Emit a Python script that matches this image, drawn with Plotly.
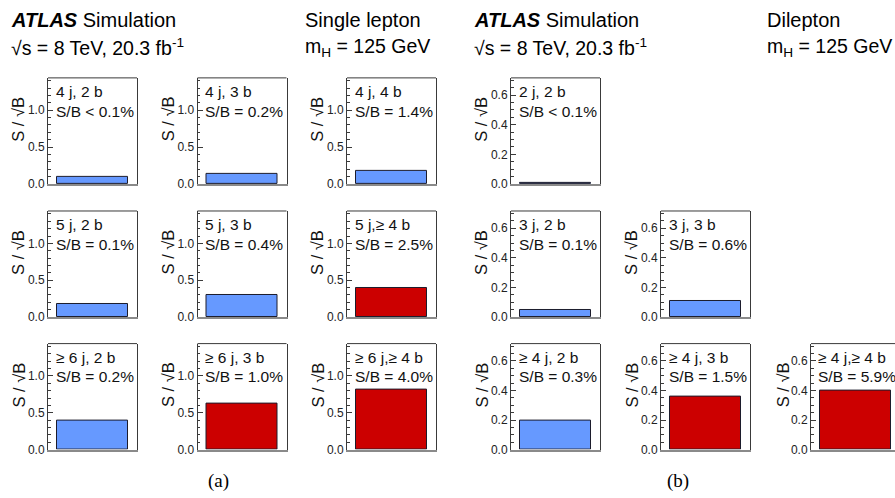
import plotly.graph_objects as go

# Single-lepton regions (3x3 grid, row-major)
sl_regions = ["4 j, 2 b", "4 j, 3 b", "4 j, 4 b",
              "5 j, 2 b", "5 j, 3 b", "5 j,\u2265 4 b",
              "\u2265 6 j, 2 b", "\u2265 6 j, 3 b", "\u2265 6 j,\u2265 4 b"]
sl_sb_labels = ["S/B < 0.1%", "S/B = 0.2%", "S/B = 1.4%",
                "S/B = 0.1%", "S/B = 0.4%", "S/B = 2.5%",
                "S/B = 0.2%", "S/B = 1.0%", "S/B = 4.0%"]
sl_s_over_sqrt_b = [0.10, 0.14, 0.17, 0.18, 0.30, 0.40, 0.39, 0.62, 0.81]
sl_signal_rich = [False, False, False, False, False, True, False, True, True]

# Dilepton regions
dl_regions = ["2 j, 2 b", "3 j, 2 b", "3 j, 3 b",
              "\u2265 4 j, 2 b", "\u2265 4 j, 3 b", "\u2265 4 j,\u2265 4 b"]
dl_sb_labels = ["S/B < 0.1%", "S/B = 0.1%", "S/B = 0.6%",
                "S/B = 0.3%", "S/B = 1.5%", "S/B = 5.9%"]
dl_s_over_sqrt_b = [0.01, 0.05, 0.11, 0.195, 0.36, 0.40]
dl_signal_rich = [False, False, False, False, True, True]
dl_grid_cells = [(0, 0), (1, 0), (1, 1), (2, 0), (2, 1), (2, 2)]

W, H = 895, 498
FONT = "Liberation Sans, Arial, Helvetica, sans-serif"
BLUE, RED = "#6699FF", "#CC0000"
FRAME = "#3a3a3a"

panel_w, panel_h = 89, 107.5
row_top = [79, 214, 348.5]
sl_left = [48, 197.5, 347]
dl_left = [511, 661, 811]

fig = go.Figure()
shapes, annotations = [], []
layout_axes = {}


def px_x(x):
    return x / W


def px_y(y):
    return 1 - y / H


def add_panel(idx, left, top, value, rich, region, sb, ymax, dtick, minor, clipped):
    ax = "" if idx == 1 else str(idx)
    right = min(left + panel_w, W)
    visible = (right - left) / panel_w
    fig.add_trace(go.Bar(
        x=[0.5], y=[value], width=[0.8],
        marker=dict(color=RED if rich else BLUE,
                    line=dict(color="#1c1c2c", width=1)),
        xaxis="x" + ax, yaxis="y" + ax, showlegend=False, hoverinfo="skip"))
    layout_axes["xaxis" + ax] = dict(
        domain=[px_x(left), px_x(right)], range=[0, visible], anchor="y" + ax,
        showticklabels=False, ticks="", showgrid=False, zeroline=False,
        showline=True, linecolor="#8a8a8a", linewidth=2, fixedrange=True)
    layout_axes["yaxis" + ax] = dict(
        domain=[px_y(top + panel_h), px_y(top)], range=[0, ymax], anchor="x" + ax,
        showgrid=False, zeroline=False, showline=True, linecolor=FRAME, linewidth=1,
        mirror=not clipped, ticks="inside", ticklen=5, tickcolor=FRAME,
        dtick=dtick, tick0=0, tickformat=".1f", ticklabelstandoff=0,
        minor=dict(ticks="inside", ticklen=2.5, dtick=minor, tickcolor=FRAME),
        tickfont=dict(family=FONT, size=12, color="#222"), fixedrange=True)
    # top edge of the frame
    shapes.append(dict(type="line", xref=f"x{ax} domain", yref=f"y{ax} domain",
                       x0=0, x1=1, y0=1, y1=1, line=dict(color=FRAME, width=1)))
    annotations.append(dict(text=region, xref=f"x{ax} domain", yref=f"y{ax} domain",
                            x=0.065, y=0.87, xanchor="left", yanchor="middle",
                            showarrow=False, font=dict(family=FONT, size=15.5, color="#111")))
    annotations.append(dict(text=sb, xref=f"x{ax} domain", yref=f"y{ax} domain",
                            x=0.065, y=0.685, xanchor="left", yanchor="middle",
                            showarrow=False, font=dict(family=FONT, size=15.5, color="#111")))
    annotations.append(dict(text="S / \u221aB", xref=f"x{ax} domain", yref=f"y{ax} domain",
                            x=-0.33, y=0.61, xanchor="center", yanchor="middle",
                            textangle=-90, showarrow=False,
                            font=dict(family=FONT, size=16.5, color="#111")))


idx = 1
for k in range(9):
    r, c = divmod(k, 3)
    add_panel(idx, sl_left[c], row_top[r], sl_s_over_sqrt_b[k], sl_signal_rich[k],
              sl_regions[k], sl_sb_labels[k], 1.44, 0.5, 0.1, False)
    idx += 1
for k, (r, c) in enumerate(dl_grid_cells):
    add_panel(idx, dl_left[c], row_top[r], dl_s_over_sqrt_b[k], dl_signal_rich[k],
              dl_regions[k], dl_sb_labels[k], 0.717, 0.2, 0.05, dl_left[c] + panel_w > W)
    idx += 1


def header(text, x, y, size=20, family=FONT):
    annotations.append(dict(text=text, xref="paper", yref="paper", x=px_x(x), y=px_y(y),
                            xanchor="left", yanchor="middle", showarrow=False,
                            font=dict(family=family, size=size, color="#000")))


for x0, channel, cx in [(9, "Single lepton", 303), (472, "Dilepton", 765)]:
    header("<b><i>ATLAS</i></b> Simulation", x0, 20)
    header("\u221as = 8 TeV, 20.3 fb<sup>-1</sup>", x0, 48, size=19.5)
    header(channel, cx, 20)
    header("m<sub>H</sub> = 125 GeV", cx, 48, size=19.5)

for lbl, cx in [("(a)", 218), ("(b)", 678)]:
    annotations.append(dict(text=lbl, xref="paper", yref="paper", x=px_x(cx), y=px_y(488),
                            xanchor="center", yanchor="middle", showarrow=False,
                            font=dict(family="Liberation Serif, Times New Roman, serif",
                                      size=19, color="#000")))

fig.update_layout(
    width=W, height=H, margin=dict(l=0, r=0, t=0, b=0),
    paper_bgcolor="white", plot_bgcolor="white",
    shapes=shapes, annotations=annotations, bargap=0,
    **layout_axes)

fig.write_html("out.html", config=dict(displayModeBar=False))
